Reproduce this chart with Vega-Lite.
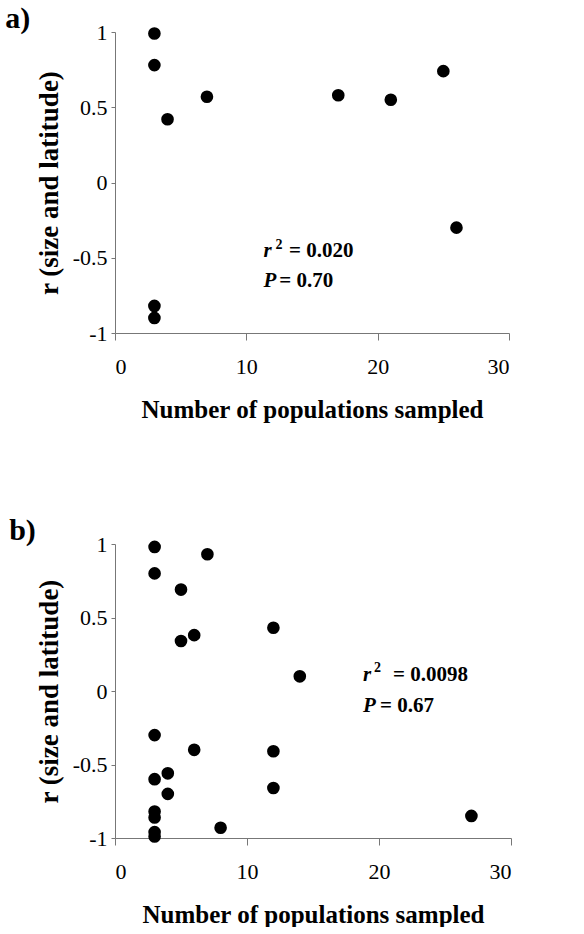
{
  "$schema": "https://vega.github.io/schema/vega-lite/v6.json",
  "background": "white",
  "padding": {"left": 5, "top": 4, "right": 5, "bottom": 0},
  "config": {
    "font": "Liberation Serif",
    "view": {"stroke": null},
    "axis": {
      "grid": false,
      "domainColor": "#777777",
      "tickColor": "#777777",
      "labelFont": "Liberation Serif",
      "labelFontSize": 22,
      "labelColor": "black",
      "titleFont": "Liberation Serif",
      "titleFontWeight": "bold",
      "titleColor": "black"
    },
    "title": {"font": "Liberation Serif", "fontSize": 30, "fontWeight": "bold", "anchor": "start", "frame": "bounds", "color": "black", "offset": -13}
  },
  "datasets": {
    "a": [
      {"n": 3, "r": 0.99}, {"n": 3, "r": 0.78}, {"n": 4, "r": 0.42}, {"n": 7, "r": 0.57},
      {"n": 17, "r": 0.58}, {"n": 21, "r": 0.55}, {"n": 25, "r": 0.74}, {"n": 26, "r": -0.30},
      {"n": 3, "r": -0.82}, {"n": 3, "r": -0.90}
    ],
    "b": [
      {"n": 3, "r": 0.98}, {"n": 3, "r": 0.80}, {"n": 7, "r": 0.93}, {"n": 5, "r": 0.69},
      {"n": 5, "r": 0.34}, {"n": 6, "r": 0.38}, {"n": 12, "r": 0.43}, {"n": 14, "r": 0.10},
      {"n": 3, "r": -0.30}, {"n": 6, "r": -0.40}, {"n": 12, "r": -0.41}, {"n": 4, "r": -0.56},
      {"n": 3, "r": -0.60}, {"n": 4, "r": -0.70}, {"n": 12, "r": -0.66}, {"n": 3, "r": -0.82},
      {"n": 3, "r": -0.86}, {"n": 3, "r": -0.96}, {"n": 3, "r": -0.99}, {"n": 8, "r": -0.93},
      {"n": 27, "r": -0.85}
    ],
    "annA": [
      {"sym": "r", "sup": "2", "val": "= 0.020", "x": 11.3, "xv": 13.25, "y": -0.495},
      {"sym": "P", "sup": "", "val": "= 0.70", "x": 11.3, "xv": 12.5, "y": -0.694}
    ],
    "annB": [
      {"sym": "r", "sup": "2", "val": "= 0.0098", "x": 18.79, "xv": 21.06, "y": 0.068},
      {"sym": "P", "sup": "", "val": "= 0.67", "x": 18.79, "xv": 20.08, "y": -0.143}
    ]
  },
  "vconcat": [
    {
      "title": {"text": "a)", "dx": -30},
      "width": 394,
      "height": 301,
      "layer": [
        {
          "data": {"name": "a"},
          "mark": {"type": "circle", "size": 160, "color": "black", "opacity": 1},
          "encoding": {
            "x": {"field": "n", "type": "quantitative", "scale": {"domain": [0, 30], "nice": false},
              "axis": {"values": [0, 10, 20, 30], "tickSize": 7, "labelPadding": 16, "title": "Number of populations sampled", "titleFontSize": 25, "titlePadding": 20}},
            "y": {"field": "r", "type": "quantitative", "scale": {"domain": [-1, 1], "nice": false},
              "axis": {"values": [-1, -0.5, 0, 0.5, 1], "tickSize": 4, "labelPadding": 4, "labelExpr": "'' + datum.value", "title": "r (size and latitude)", "titleFontSize": 27, "titlePadding": 9}}
          }
        },
        {
          "data": {"name": "annA"},
          "mark": {"type": "text", "align": "left", "baseline": "alphabetic", "fontSize": 21, "fontWeight": "bold", "fontStyle": "italic", "font": "Liberation Serif"},
          "encoding": {"x": {"field": "x", "type": "quantitative"}, "y": {"field": "y", "type": "quantitative"}, "text": {"field": "sym"}}
        },
        {
          "data": {"name": "annA"},
          "mark": {"type": "text", "align": "left", "baseline": "alphabetic", "fontSize": 14, "fontWeight": "bold", "dx": 12, "dy": -8, "font": "Liberation Serif"},
          "encoding": {"x": {"field": "x", "type": "quantitative"}, "y": {"field": "y", "type": "quantitative"}, "text": {"field": "sup"}}
        },
        {
          "data": {"name": "annA"},
          "mark": {"type": "text", "align": "left", "baseline": "alphabetic", "fontSize": 21, "fontWeight": "bold", "font": "Liberation Serif"},
          "encoding": {"x": {"field": "xv", "type": "quantitative"}, "y": {"field": "y", "type": "quantitative"}, "text": {"field": "val"}}
        }
      ]
    },
    {
      "title": {"text": "b)", "dx": -26},
      "width": 396,
      "height": 294,
      "layer": [
        {
          "data": {"name": "b"},
          "mark": {"type": "circle", "size": 160, "color": "black", "opacity": 1},
          "encoding": {
            "x": {"field": "n", "type": "quantitative", "scale": {"domain": [0, 30], "nice": false},
              "axis": {"values": [0, 10, 20, 30], "tickSize": 7, "labelPadding": 16, "title": "Number of populations sampled", "titleFontSize": 25, "titlePadding": 20}},
            "y": {"field": "r", "type": "quantitative", "scale": {"domain": [-1, 1], "nice": false},
              "axis": {"values": [-1, -0.5, 0, 0.5, 1], "tickSize": 4, "labelPadding": 4, "labelExpr": "'' + datum.value", "title": "r (size and latitude)", "titleFontSize": 27, "titlePadding": 9}}
          }
        },
        {
          "data": {"name": "annB"},
          "mark": {"type": "text", "align": "left", "baseline": "alphabetic", "fontSize": 21, "fontWeight": "bold", "fontStyle": "italic", "font": "Liberation Serif"},
          "encoding": {"x": {"field": "x", "type": "quantitative"}, "y": {"field": "y", "type": "quantitative"}, "text": {"field": "sym"}}
        },
        {
          "data": {"name": "annB"},
          "mark": {"type": "text", "align": "left", "baseline": "alphabetic", "fontSize": 14, "fontWeight": "bold", "dx": 11, "dy": -9, "font": "Liberation Serif"},
          "encoding": {"x": {"field": "x", "type": "quantitative"}, "y": {"field": "y", "type": "quantitative"}, "text": {"field": "sup"}}
        },
        {
          "data": {"name": "annB"},
          "mark": {"type": "text", "align": "left", "baseline": "alphabetic", "fontSize": 21, "fontWeight": "bold", "font": "Liberation Serif"},
          "encoding": {"x": {"field": "xv", "type": "quantitative"}, "y": {"field": "y", "type": "quantitative"}, "text": {"field": "val"}}
        }
      ]
    }
  ],
  "spacing": 94
}
